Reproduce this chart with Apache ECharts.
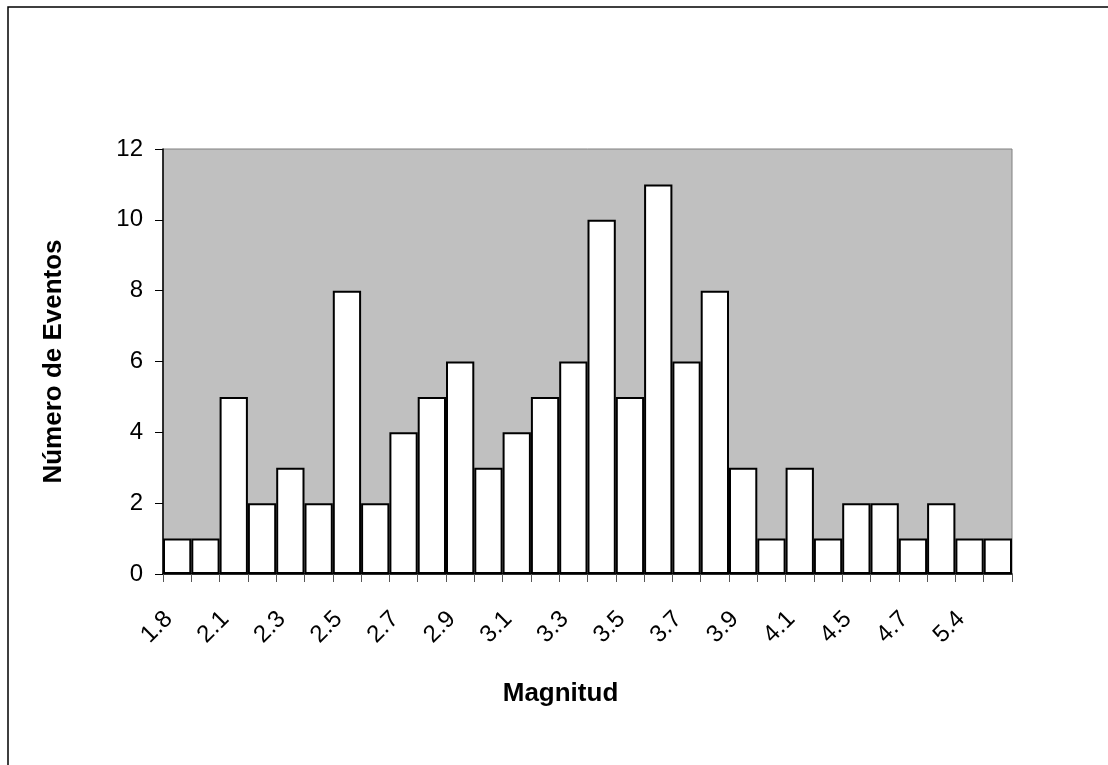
<!DOCTYPE html>
<html>
<head>
<meta charset="utf-8">
<title>Magnitud</title>
<script src="https://cdn.jsdelivr.net/npm/echarts@6/dist/echarts.min.js"></script>
<style>
  html, body { margin: 0; padding: 0; background: #fff; }
  #chart { width: 1108px; height: 765px; }
</style>
</head>
<body>
<div id="chart"></div>
<script>
// magnitude classes (only every other one is labelled on the axis)
var magnitudes = ['1.8', '2.0', '2.1', '2.2', '2.3', '2.4', '2.5', '2.6', '2.7', '2.8',
  '2.9', '3.0', '3.1', '3.2', '3.3', '3.4', '3.5', '3.6', '3.7', '3.8',
  '3.9', '4.0', '4.1', '4.2', '4.5', '4.6', '4.7', '4.9', '5.4', '5.5']
// number of events per class
var events = [1, 1, 5, 2, 3, 2, 8, 2, 4, 5,
  6, 3, 4, 5, 6, 10, 5, 11, 6, 8,
  3, 1, 3, 1, 2, 2, 1, 2, 1, 1]
var yTicks = [0, 2, 4, 6, 8, 10, 12]

var font = '"Liberation Sans", Arial, sans-serif'
var chart = echarts.init(document.getElementById('chart'))

chart.setOption({
  animation: false,
  backgroundColor: '#fff',
  graphic: [{
    type: 'rect',
    z: -10,
    shape: { x: 8, y: 7, width: 1300, height: 1000 },
    style: { fill: 'none', stroke: '#000', lineWidth: 1.5 }
  }],
  grid: {
    left: 163,
    top: 149,
    right: 96,
    bottom: 191,
    show: true,
    backgroundColor: '#C0C0C0',
    borderColor: '#808080',
    borderWidth: 1
  },
  xAxis: {
    type: 'category',
    data: magnitudes,
    boundaryGap: true,
    name: 'Magnitud',
    nameLocation: 'middle',
    nameGap: 107,
    nameTextStyle: {
      fontFamily: font, fontSize: 26, fontWeight: 'bold', color: '#000',
      padding: [0, 54, 0, 0]
    },
    axisLine: { lineStyle: { color: '#000', width: 1.5 } },
    axisTick: { show: true, interval: 0, length: 8, lineStyle: { color: '#555' } },
    axisLabel: {
      interval: 1,
      rotate: 45,
      margin: 33,
      padding: [0, 12, 25, 0],
      fontFamily: font,
      fontSize: 24,
      color: '#000'
    }
  },
  yAxis: {
    type: 'value',
    min: yTicks[0],
    max: yTicks[yTicks.length - 1],
    interval: 2,
    name: 'Número de Eventos',
    nameLocation: 'middle',
    nameGap: 96,
    nameRotate: 90,
    nameTextStyle: { fontFamily: font, fontSize: 26, fontWeight: 'bold', color: '#000' },
    axisLine: { show: true, lineStyle: { color: '#000', width: 1.5 } },
    axisTick: { show: true, length: 8, lineStyle: { color: '#000' } },
    splitLine: { show: false },
    axisLabel: { margin: 20, fontFamily: font, fontSize: 24, color: '#000' }
  },
  series: [{
    type: 'bar',
    data: events,
    barCategoryGap: '0%',
    itemStyle: { color: '#fff', borderColor: '#000', borderWidth: 2 }
  }]
})
</script>
</body>
</html>
